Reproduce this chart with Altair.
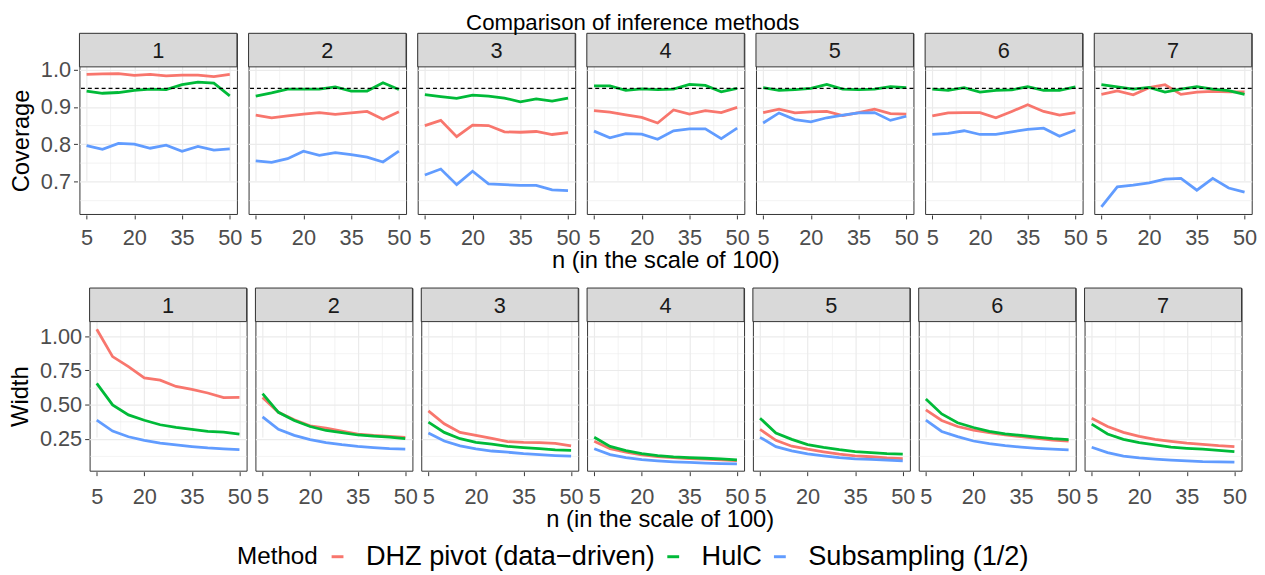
import altair as alt
import pandas as pd

FONT = "Liberation Sans"

# ---------------- data ----------------
n_vals = [5, 10, 15, 20, 25, 30, 35, 40, 45, 50]
panels = ["1", "2", "3", "4", "5", "6", "7"]
methods = ["DHZ pivot (data−driven)", "HulC", "Subsampling (1/2)"]
colors = ["#F8766D", "#00BA38", "#619CFF"]

x_major = [5, 20, 35, 50]
x_minor = [12.5, 27.5, 42.5]
cov_major = [0.7, 0.8, 0.9, 1.0]
cov_minor = [0.65, 0.75, 0.85, 0.95]
wid_major = [0.25, 0.5, 0.75, 1.0]
wid_minor = [0.125, 0.375, 0.625, 0.875]
target_coverage = 0.95

# Coverage, one list per panel (1..7), values at n = 5..50
cov_dhz = [
    [0.988, 0.989, 0.990, 0.985, 0.988, 0.984, 0.986, 0.986, 0.982, 0.988],
    [0.878, 0.871, 0.876, 0.881, 0.885, 0.880, 0.884, 0.888, 0.867, 0.887],
    [0.850, 0.864, 0.820, 0.851, 0.850, 0.833, 0.832, 0.834, 0.826, 0.831],
    [0.890, 0.886, 0.879, 0.872, 0.857, 0.892, 0.881, 0.890, 0.885, 0.899],
    [0.885, 0.894, 0.884, 0.887, 0.888, 0.877, 0.885, 0.894, 0.882, 0.881],
    [0.876, 0.884, 0.885, 0.885, 0.871, 0.888, 0.906, 0.888, 0.878, 0.885],
    [0.934, 0.943, 0.933, 0.952, 0.960, 0.934, 0.940, 0.942, 0.941, 0.941],
]
cov_hulc = [
    [0.943, 0.937, 0.939, 0.945, 0.948, 0.947, 0.960, 0.967, 0.964, 0.930],
    [0.929, 0.938, 0.948, 0.948, 0.948, 0.954, 0.943, 0.943, 0.965, 0.947],
    [0.933, 0.928, 0.923, 0.932, 0.929, 0.924, 0.914, 0.922, 0.916, 0.924],
    [0.957, 0.957, 0.945, 0.949, 0.947, 0.948, 0.961, 0.958, 0.941, 0.950],
    [0.952, 0.945, 0.947, 0.950, 0.961, 0.948, 0.947, 0.948, 0.955, 0.952],
    [0.948, 0.945, 0.952, 0.940, 0.945, 0.946, 0.955, 0.945, 0.945, 0.954],
    [0.960, 0.954, 0.948, 0.953, 0.940, 0.948, 0.955, 0.948, 0.944, 0.934],
]
cov_sub = [
    [0.796, 0.786, 0.802, 0.800, 0.789, 0.797, 0.781, 0.794, 0.784, 0.787],
    [0.755, 0.751, 0.761, 0.781, 0.770, 0.777, 0.772, 0.765, 0.752, 0.781],
    [0.717, 0.733, 0.691, 0.727, 0.693, 0.691, 0.689, 0.689, 0.677, 0.675],
    [0.835, 0.817, 0.828, 0.827, 0.813, 0.836, 0.841, 0.841, 0.815, 0.843],
    [0.857, 0.884, 0.866, 0.860, 0.871, 0.878, 0.884, 0.885, 0.864, 0.875],
    [0.826, 0.829, 0.836, 0.826, 0.826, 0.833, 0.840, 0.843, 0.821, 0.838],
    [0.631, 0.685, 0.690, 0.696, 0.706, 0.708, 0.676, 0.708, 0.682, 0.671],
]

# Width, one list per panel (1..7)
wid_dhz = [
    [1.050, 0.850, 0.777, 0.695, 0.678, 0.632, 0.610, 0.584, 0.550, 0.552],
    [0.552, 0.443, 0.388, 0.344, 0.327, 0.306, 0.284, 0.274, 0.267, 0.260],
    [0.453, 0.359, 0.296, 0.274, 0.252, 0.228, 0.223, 0.221, 0.216, 0.197],
    [0.231, 0.177, 0.151, 0.131, 0.119, 0.112, 0.105, 0.100, 0.095, 0.090],
    [0.318, 0.238, 0.195, 0.173, 0.154, 0.137, 0.125, 0.118, 0.110, 0.105],
    [0.460, 0.383, 0.339, 0.313, 0.294, 0.277, 0.265, 0.253, 0.240, 0.233],
    [0.400, 0.339, 0.296, 0.267, 0.245, 0.231, 0.218, 0.209, 0.199, 0.192],
]
wid_hulc = [
    [0.654, 0.497, 0.424, 0.385, 0.352, 0.332, 0.318, 0.303, 0.298, 0.284],
    [0.579, 0.443, 0.383, 0.339, 0.310, 0.294, 0.277, 0.269, 0.262, 0.250],
    [0.371, 0.296, 0.250, 0.223, 0.211, 0.194, 0.185, 0.177, 0.168, 0.165],
    [0.260, 0.194, 0.163, 0.141, 0.127, 0.117, 0.112, 0.107, 0.102, 0.095],
    [0.400, 0.292, 0.245, 0.207, 0.187, 0.170, 0.156, 0.149, 0.141, 0.137],
    [0.540, 0.431, 0.366, 0.332, 0.303, 0.286, 0.274, 0.262, 0.250, 0.243],
    [0.356, 0.284, 0.245, 0.221, 0.204, 0.189, 0.180, 0.173, 0.165, 0.156],
]
wid_sub = [
    [0.385, 0.306, 0.264, 0.238, 0.218, 0.204, 0.192, 0.182, 0.175, 0.170],
    [0.410, 0.318, 0.274, 0.243, 0.221, 0.206, 0.194, 0.185, 0.177, 0.173],
    [0.291, 0.233, 0.197, 0.175, 0.160, 0.151, 0.141, 0.134, 0.127, 0.122],
    [0.177, 0.134, 0.112, 0.097, 0.088, 0.081, 0.076, 0.071, 0.068, 0.066],
    [0.260, 0.192, 0.161, 0.139, 0.125, 0.112, 0.103, 0.098, 0.093, 0.088],
    [0.385, 0.303, 0.265, 0.233, 0.214, 0.199, 0.189, 0.180, 0.173, 0.168],
    [0.187, 0.148, 0.122, 0.109, 0.100, 0.093, 0.088, 0.083, 0.081, 0.078],
]


def to_long(tables):
    rows = []
    for m, tab in zip(methods, tables):
        for p, vals in zip(panels, tab):
            for n, v in zip(n_vals, vals):
                rows.append({"panel": p, "n": n, "Method": m, "value": v})
    return pd.DataFrame(rows)


cov_df = to_long([cov_dhz, cov_hulc, cov_sub])
wid_df = to_long([wid_dhz, wid_hulc, wid_sub])

# ---------------- layout constants ----------------
STRIP = 34       # strip height
GRID = "#EBEBEB"


def minor_test(major):
    return "indexof(" + str(list(major)) + ", datum.value) < 0"


def make_row(df, width, height, spacing, xpad, ytitle, ydomain, ymajor, yminor, fmt, with_ref):
    xs = alt.Scale(domain=[2.75, 52.25], nice=False, zero=False)
    ys = alt.Scale(domain=ydomain, nice=False, zero=False, range=[height, STRIP])
    xtest = minor_test(x_major)
    ytest = minor_test(ymajor)
    x_axis = alt.Axis(
        values=x_major + x_minor, title=None,
        labelExpr="indexof(" + str(x_major) + ", datum.value) >= 0 ? datum.label : ''",
        gridWidth={"condition": {"test": xtest, "value": 0.6}, "value": 1.2},
        tickOpacity={"condition": {"test": xtest, "value": 0}, "value": 1},
        labelPadding=xpad,
    )
    y_axis = alt.Axis(
        values=ymajor + yminor, title=ytitle, format=fmt,
        labelExpr="indexof(" + str(ymajor) + ", datum.value) >= 0 ? datum.label : ''",
        gridWidth={"condition": {"test": ytest, "value": 0.6}, "value": 1.2},
        tickOpacity={"condition": {"test": ytest, "value": 0}, "value": 1},
        labelPadding=3, titlePadding=7,
    )
    base = alt.Chart()
    first = (alt.datum.n == n_vals[0]) & (alt.datum.Method == methods[1])
    lines = base.mark_line(strokeWidth=2.8).encode(
        x=alt.X("n:Q", scale=xs, axis=x_axis),
        y=alt.Y("value:Q", scale=ys, axis=y_axis),
        color=alt.Color("Method:N", scale=alt.Scale(domain=methods, range=colors),
                        legend=alt.Legend(title="Method")),
    )
    layers = [lines]
    if with_ref:
        ref = base.mark_rule(color="black", strokeDash=[4, 3], strokeWidth=1.2).encode(
            y=alt.Y(datum=target_coverage, type="quantitative", scale=ys, axis=y_axis)
        ).transform_filter(first)
        layers.append(ref)
    strip = base.mark_rect(fill="#D9D9D9", stroke="#333333", strokeWidth=1).encode(
        x=alt.value(0), x2=alt.value(width), y=alt.value(0), y2=alt.value(STRIP)
    ).transform_filter(first)
    strip_text = base.mark_text(font=FONT, fontSize=22, color="#1A1A1A",
                                baseline="middle", align="center").encode(
        x=alt.value(width / 2), y=alt.value(STRIP / 2 + 1), text="panel:N"
    ).transform_filter(first)
    layers += [strip, strip_text]
    return alt.layer(*layers, data=df).properties(width=width, height=height).facet(
        column=alt.Column("panel:N", header=None),
        spacing=spacing,
    ).properties(
        title=alt.TitleParams("n (in the scale of 100)", orient="bottom", anchor="middle",
                              font=FONT, fontSize=24, fontWeight="normal", color="black",
                              offset=1, dx=33)
    )


row1 = make_row(cov_df, 159.5, 183, 8.3, 9, "Coverage", [0.612, 1.008],
                cov_major, cov_minor, ".1f", True)
row2 = make_row(wid_df, 159, 185, 6.95, 11, "Width", [0.016, 1.106],
                wid_major, wid_minor, ".2f", False)

chart = alt.vconcat(row1, row2, spacing=14, center=True).properties(
    title=alt.TitleParams("Comparison of inference methods", anchor="middle", font=FONT,
                          fontSize=22.5, fontWeight="normal", color="black", offset=-2),
    padding={"left": 0, "top": 0, "right": 0, "bottom": 0},
).configure_view(
    stroke="#333333", strokeWidth=1
).configure_axis(
    domain=False, gridColor=GRID, tickColor="#333333", tickSize=4, tickWidth=1,
    labelFont=FONT, labelFontSize=22, labelColor="#4D4D4D",
    titleFont=FONT, titleFontSize=24, titleFontWeight="normal", titleColor="black",
).configure_legend(
    orient="none", legendX=160, legendY=516, direction="horizontal",
    titleOrient="left", titleFont=FONT, titleFontSize=24.5, titleFontWeight="normal",
    titleColor="black", titlePadding=6, titleBaseline="middle",
    labelFont=FONT, labelFontSize=27.5, labelColor="black", labelOffset=15, labelLimit=500,
    symbolType="stroke", symbolStrokeWidth=3, symbolSize=144, columnPadding=4,
)

chart.save("out.html", embed_options={"renderer": "svg", "actions": False})
